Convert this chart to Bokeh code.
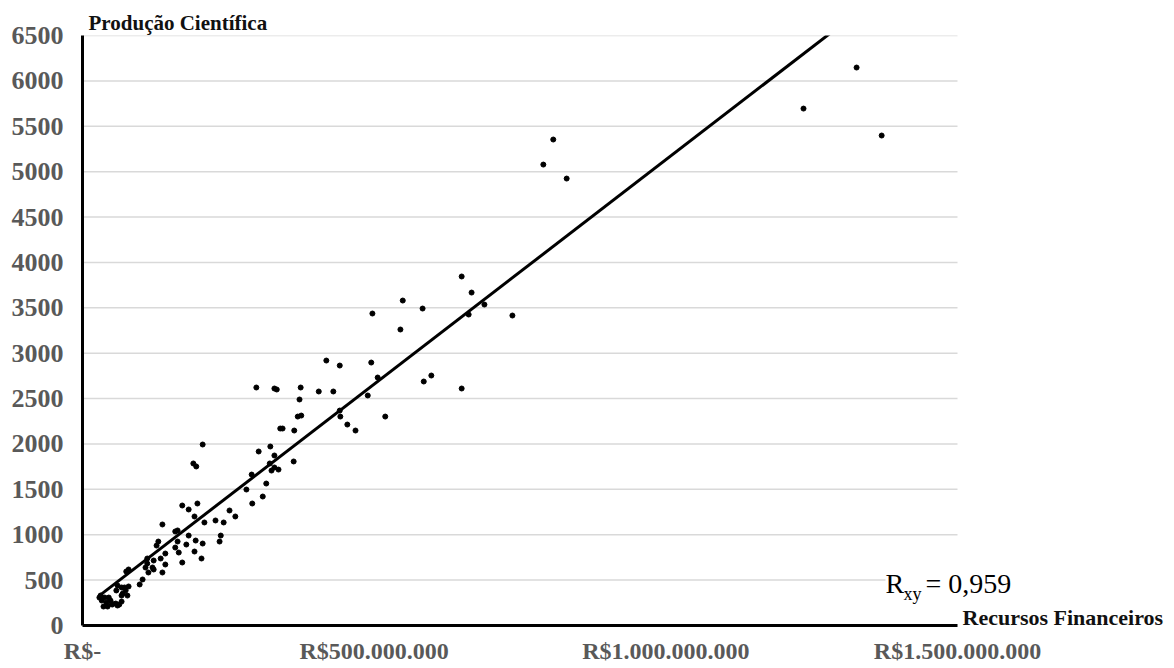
import numpy as np
from bokeh.plotting import figure
from bokeh.models import Range1d, FixedTicker, Label
from bokeh.embed import file_html
from bokeh.resources import INLINE

# Recursos financeiros (milhões de R$) e produção científica
recursos_mi = [1327, 1236, 1370, 807, 790, 830,
    650, 667, 549, 583, 689, 662, 737, 545, 497, 585, 598, 650, 519, 418, 441, 495, 506,
    298, 329, 333, 374, 372, 405, 430, 489, 441, 442, 369, 375, 454, 468, 339, 343, 363,
    302, 322, 329, 362, 321, 329, 336, 324, 206, 190, 195, 290, 315, 281, 309, 291,
    171, 182, 197, 192, 252, 262, 228, 242, 209, 137, 159, 163, 237, 235, 182, 130, 127,
    163, 194, 206, 178, 159,
    192, 142, 165, 134, 111, 122, 142, 171, 204, 111, 120, 108, 122, 137, 79,
    103, 98, 79, 67, 75, 113, 58, 74, 67, 77, 67, 63, 31, 45, 48, 33, 36, 43, 51, 60,
    29, 38, 57, 50, 41, 60, 72, 69]
producao = [6147, 5695, 5398, 5354, 5078, 4924,
    3845, 3668, 3580, 3492, 3536, 3426, 3415, 3261, 3437, 2688, 2754, 2611, 2302, 2919, 2864, 2897, 2732,
    2622, 2611, 2600, 2622, 2490, 2578, 2578, 2534, 2368, 2302, 2302, 2313, 2214, 2148, 2170, 2170, 2148,
    1917, 1972, 1873, 1807, 1785, 1741, 1718, 1707, 1994, 1785, 1752, 1663, 1564, 1498, 1421, 1344,
    1322, 1278, 1344, 1201, 1267, 1201, 1157, 1135, 1135, 1113, 1036, 1047, 991, 925, 991, 925, 881,
    925, 936, 903, 892, 859,
    815, 793, 804, 738, 738, 716, 672, 694, 738, 683, 639, 639, 617, 584, 617,
    507, 452, 430, 419, 595, 584, 386, 386, 330, 330, 264, 231, 330, 308, 275, 275, 209, 209, 231, 220,
    308, 308, 242, 242, 253, 441, 419, 353]

x_ticks = [0, 500_000_000, 1_000_000_000, 1_500_000_000]
x_tick_labels = ["R$-", "R$500.000.000", "R$1.000.000.000", "R$1.500.000.000"]
y_ticks = list(range(0, 6501, 500))
correlacao = "0,959"

x = np.array(recursos_mi, dtype=float) * 1e6
y = np.array(producao, dtype=float)
slope, intercept = np.polyfit(x, y, 1)
tx = np.array([x.min(), x.max()])
ty = intercept + slope * tx

# layout (pixels)
W, H = 1174, 668
FL, FT, FR, FB = 82, 35, 957, 625   # visible plotting area
X_MAX, Y_MAX = x_ticks[-1], y_ticks[-1]
x_end = X_MAX * (W - FL) / (FR - FL)

def px_x(px):
    return (px - FL) / (FR - FL) * X_MAX

def px_y(py):
    return (FB - py) / (FB - FT) * Y_MAX

def base_y(baseline_px, size):
    # anchor so that the text's baseline falls on baseline_px
    return px_y(baseline_px - 0.35 * size)

FONT = "Liberation Serif"

p = figure(width=W, height=H, output_backend="svg", toolbar_location=None,
           x_range=Range1d(0, x_end), y_range=Range1d(0, Y_MAX),
           min_border_left=FL, min_border_right=0, min_border_top=FT, min_border_bottom=H - FB,
           title="Produção Científica")
p.outline_line_color = None
p.background_fill_color = "white"
p.grid.visible = False

p.title.align = "left"
p.title.offset = 6
p.title.standoff = 2
p.title.text_font = FONT
p.title.text_font_style = "bold"
p.title.text_font_size = "21px"
p.title.text_color = "#111111"

xa = p.xaxis[0]
xa.ticker = FixedTicker(ticks=x_ticks)
xa.bounds = (0, X_MAX)
xa.major_label_overrides = {t: l for t, l in zip(x_ticks, x_tick_labels)}
xa.axis_line_width = 3
xa.axis_line_color = "black"
xa.major_tick_line_color = None
xa.minor_tick_line_color = None
xa.major_label_text_font = FONT
xa.major_label_text_font_style = "bold"
xa.major_label_text_font_size = "24px"
xa.major_label_text_color = "#595959"
xa.major_label_standoff = 6

ya = p.yaxis[0]
ya.ticker = FixedTicker(ticks=y_ticks)
ya.axis_line_width = 3
ya.axis_line_color = "black"
ya.major_tick_line_color = None
ya.minor_tick_line_color = None
ya.major_label_text_font = FONT
ya.major_label_text_font_style = "bold"
ya.major_label_text_font_size = "26px"
ya.major_label_text_color = "#595959"
ya.major_label_standoff = 13

# horizontal gridlines spanning only the value range of the x axis
p.segment(x0=[0] * len(y_ticks), x1=[X_MAX] * len(y_ticks), y0=y_ticks, y1=y_ticks,
          line_color="#d9d9d9", line_width=1.5)

p.line(tx, ty, line_color="black", line_width=3)
p.scatter(x, y, size=5, color="black")

p.add_layout(Label(x=px_x(962), y=base_y(625, 22), text="Recursos Financeiros",
                   text_font=FONT, text_font_style="bold", text_font_size="22px",
                   text_color="#111111", text_baseline="alphabetic"))

# R_xy = 0,959 (text box with white fill over the gridline)
p.add_layout(Label(x=px_x(896), y=base_y(600, 18), text="xy",
                   text_font=FONT, text_font_size="18px", text_color="black",
                   text_baseline="alphabetic", background_fill_color="white", padding=7))
p.add_layout(Label(x=px_x(885), y=base_y(593, 28), text="R",
                   text_font=FONT, text_font_size="28px", text_color="black",
                   text_baseline="alphabetic", background_fill_color="white"))
p.add_layout(Label(x=px_x(925), y=base_y(593, 28), text="= " + correlacao,
                   text_font=FONT, text_font_size="28px", text_color="black",
                   text_baseline="alphabetic", background_fill_color="white"))

open("out.html", "w").write(file_html(p, INLINE))
